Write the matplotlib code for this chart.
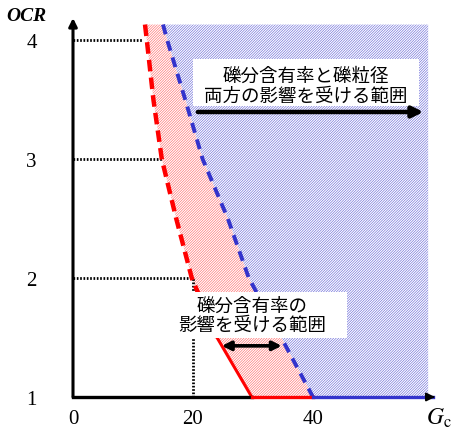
import matplotlib
matplotlib.use("Agg")
import matplotlib.pyplot as plt
from matplotlib.patches import Rectangle

plt.rcParams['hatch.linewidth'] = 0.45
plt.rcParams['mathtext.fontset'] = 'stix'

# data
ocr_pts = [4.13, 4.0, 3.5, 3.0, 2.5, 2.0, 1.5, 1.0]
red_gc = [12.0, 12.3, 13.4, 14.8, 17.2, 19.8, 24.0, 29.8]   # gravel content boundary
blue_gc = [15.0, 15.7, 18.7, 21.6, 25.8, 29.3, 34.7, 40.0]  # gravel content + grain size boundary
gc_max = 59.2
ocr_top = 4.13
ref_ocr = [4, 3, 2]
ref_gc = [11.7, 14.8, 19.8]
ref_vline_gc = 20
xticks = [0, 20, 40]
yticks = [1, 2, 3, 4]
label_both = "礫分含有率と礫粒径\n両方の影響を受ける範囲"
label_gc = "礫分含有率の\n影響を受ける範囲"

jp_font = ['Noto Sans CJK JP', 'DejaVu Sans']
red = '#ff0000'
blue = '#3333cc'

fig = plt.figure(figsize=(4.53, 4.31), dpi=100)
ax = fig.add_axes([73 / 453, 33 / 431, 364 / 453, 379 / 431])
ax.set_xlim(0, 60.67)
ax.set_ylim(1, 1 + 379 / 119)
for s in ax.spines.values():
    s.set_visible(False)

# hatched areas
bx = blue_gc + [gc_max, gc_max]
by = ocr_pts + [1.0, ocr_top]
ax.fill(bx, by, facecolor='white', edgecolor='#6a6ad8', linewidth=0, hatch='/' * 13, zorder=1)
rx = red_gc + blue_gc[::-1]
ry = ocr_pts + ocr_pts[::-1]
ax.fill(rx, ry, facecolor='white', edgecolor='#ff6a6a', linewidth=0, hatch='/' * 13, zorder=1)

# reference dotted lines
for o, g in zip(ref_ocr, ref_gc):
    ax.plot([0, g], [o, o], color='black', lw=2.0, ls=(0, (0.6, 0.6)), zorder=2)
ax.plot([ref_vline_gc, ref_vline_gc], [1, 2], color='black', lw=2.0, ls=(0, (0.6, 0.6)), zorder=2)

# boundary lines
dash_idx = [i for i, o in enumerate(ocr_pts) if o >= 1.5]
solid_idx = [i for i, o in enumerate(ocr_pts) if o <= 1.5]
ax.plot([red_gc[i] for i in dash_idx], [ocr_pts[i] for i in dash_idx],
        color=red, lw=3.2, dashes=(2.6, 1.4), zorder=3)
ax.plot([red_gc[i] for i in solid_idx], [ocr_pts[i] for i in solid_idx],
        color=red, lw=2.2, zorder=3)
ax.plot(blue_gc, ocr_pts, color=blue, lw=2.8, dashes=(2.6, 1.8), zorder=3)

# axes
ax.plot([0, red_gc[-1]], [1, 1], color='black', lw=2.4, zorder=4, clip_on=False)
ax.plot([red_gc[-1], blue_gc[-1]], [1, 1], color=red, lw=2.4, zorder=4, clip_on=False)
ax.plot([blue_gc[-1], 60.0], [1, 1], color=blue, lw=2.4, zorder=4, clip_on=False)
ax.annotate('', xy=(60.8, 1), xytext=(59.5, 1),
            arrowprops=dict(arrowstyle='-|>', color='black', lw=1.5, mutation_scale=12),
            zorder=5, annotation_clip=False)
ax.annotate('', xy=(0, 1 + 379 / 119), xytext=(0, 1),
            arrowprops=dict(arrowstyle='-|>', color='black', lw=2.2, mutation_scale=12,
                            shrinkA=0, shrinkB=0),
            zorder=5, annotation_clip=False)

# ticks
ax.set_xticks(xticks)
ax.set_yticks(yticks)
ax.tick_params(length=0)
ax.tick_params(axis='x', pad=9)
ax.tick_params(axis='y', pad=26)
for lab in ax.get_xticklabels() + ax.get_yticklabels():
    lab.set_fontfamily('Liberation Serif')
    lab.set_fontsize(15)

ax.text(-7.7, 4.21, 'OCR', fontfamily='Liberation Serif', fontstyle='italic',
        fontweight='bold', fontsize=14, ha='center', va='center', clip_on=False)
ax.text(61.0, 0.83, r'$G_\mathrm{c}$', fontsize=17, ha='center', va='center', clip_on=False)

# annotation box 1
ax.add_patch(Rectangle((20.0, 3.445), 37.7, 0.395, facecolor='white', edgecolor='none', zorder=6))
ax.text(38.8, 3.615, label_both, family=jp_font, fontsize=13.3, ha='center', va='center',
        linespacing=1.1, zorder=7)
ax.annotate('', xy=(58.4, 3.395), xytext=(20.8, 3.395),
            arrowprops=dict(arrowstyle='-|>', color='black', lw=3.2, mutation_scale=16,
                            shrinkA=0, shrinkB=0),
            zorder=7)

# annotation box 2
ax.add_patch(Rectangle((17.5, 1.496), 28.2, 0.386, facecolor='white', edgecolor='none', zorder=6))
ax.text(29.8, 1.685, label_gc, family=jp_font, fontsize=13.3, ha='center', va='center',
        linespacing=1.1, zorder=7)
ax.annotate('', xy=(34.8, 1.43), xytext=(24.8, 1.43),
            arrowprops=dict(arrowstyle='<|-|>', color='black', lw=2.6, mutation_scale=13,
                            shrinkA=0, shrinkB=0),
            zorder=7)

fig.savefig('out.png', dpi=100)
